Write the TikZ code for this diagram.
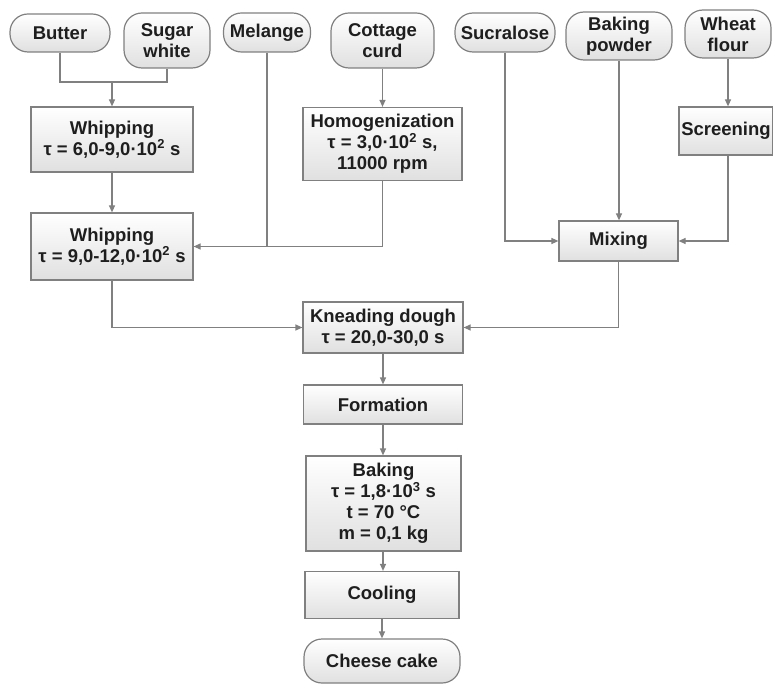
\documentclass[tikz,border=0pt]{standalone}
\usepackage{fontspec}
\setmainfont{Liberation Sans}
\usetikzlibrary{arrows.meta}
\definecolor{linegray}{RGB}{128,128,128}
\definecolor{boxgray}{RGB}{224,224,224}
\definecolor{txt}{RGB}{30,30,30}
\begin{document}
\begin{tikzpicture}[x=1pt,y=-1pt,
  box/.style={draw=linegray, line width=1.2pt, top color=white, bottom color=boxgray,
    inner sep=0pt, align=center, text=txt,
    font=\fontsize{18.5}{21}\selectfont\bfseries},
  term/.style={box, rounded corners=18pt},
  conn/.style={draw=linegray, line width=1.2pt},
  arr/.style={conn, -{Triangle[length=7pt,width=6pt]}},
]
\useasboundingbox (0,0) rectangle (773,684);

% terminals (top row)
\node[term, minimum width=100, minimum height=38] (butter) at (60,33) {Butter};
\node[term, minimum width=86, minimum height=55] (sugar) at (167,40.5) {Sugar\\white};
\node[term, minimum width=87, minimum height=39] (melange) at (267,32.5) {Melange};
\node[term, minimum width=103, minimum height=55] (cottage) at (382.5,40.5) {Cottage\\curd};
\node[term, minimum width=100, minimum height=39] (sucralose) at (505,32.5) {Sucralose};
\node[term, minimum width=106, minimum height=48] (bakingp) at (619,36) {Baking\\powder};
\node[term, minimum width=86, minimum height=48] (wheat) at (728,34) {Wheat\\flour};

% process boxes
\node[box, minimum width=162, minimum height=65] (whip1) at (112,139.5)
  {Whipping\\τ = 6,0-9,0·10\textsuperscript{2} s};
\node[box, minimum width=159, minimum height=73] (homog) at (382.5,144)
  {Homogenization\\τ = 3,0·10\textsuperscript{2} s,\\11000 rpm};
\node[box, minimum width=94, minimum height=48] (screen) at (726,131) {Screening};
\node[box, minimum width=162, minimum height=67] (whip2) at (112,246.5)
  {Whipping\\τ = 9,0-12,0·10\textsuperscript{2} s};
\node[box, minimum width=119, minimum height=40] (mixing) at (618.5,241) {Mixing};
\node[box, minimum width=160, minimum height=51] (knead) at (383,327.5)
  {Kneading dough\\τ = 20,0-30,0 s};
\node[box, minimum width=159, minimum height=39] (form) at (383,404.5) {Formation};
\node[box, minimum width=155, minimum height=95] (bake) at (383.5,503.5)
  {Baking\\τ = 1,8·10\textsuperscript{3} s\\t = 70 °C\\m = 0,1 kg};
\node[box, minimum width=154, minimum height=47] (cool) at (382,595) {Cooling};
\node[term, minimum width=156, minimum height=44] (cake) at (382,661) {Cheese cake};

% connectors
\coordinate (j1) at (112,82);
\draw[conn] (butter.south) |- (j1) -| (sugar.south);
\draw[arr] (j1) -- (j1 |- whip1.north);
\draw[arr] (whip1.south) -- (whip2.north);
\draw[arr] (cottage.south) -- (homog.north);
\coordinate (j2) at (melange.south |- whip2.east);
\draw[arr] (melange.south) -- (j2) -- (whip2.east);
\draw[conn] (homog.south) |- (j2);
\draw[arr] (whip2.south) |- (knead.west);
\draw[arr] (sucralose.south) |- (mixing.west);
\draw[arr] (bakingp.south) -- (bakingp.south |- mixing.north);
\draw[arr] (wheat.south) -- (wheat.south |- screen.north);
\draw[arr] (wheat.south |- screen.south) |- (mixing.east);
\draw[arr] (mixing.south) |- (knead.east);
\draw[arr] (knead.south) -- (form.north);
\draw[arr] (form.south) -- (bake.north -| form.south);
\draw[arr] (bake.south -| form.south) -- (cool.north -| form.south);
\draw[arr] (cool.south) -- (cake.north);
\end{tikzpicture}
\end{document}
